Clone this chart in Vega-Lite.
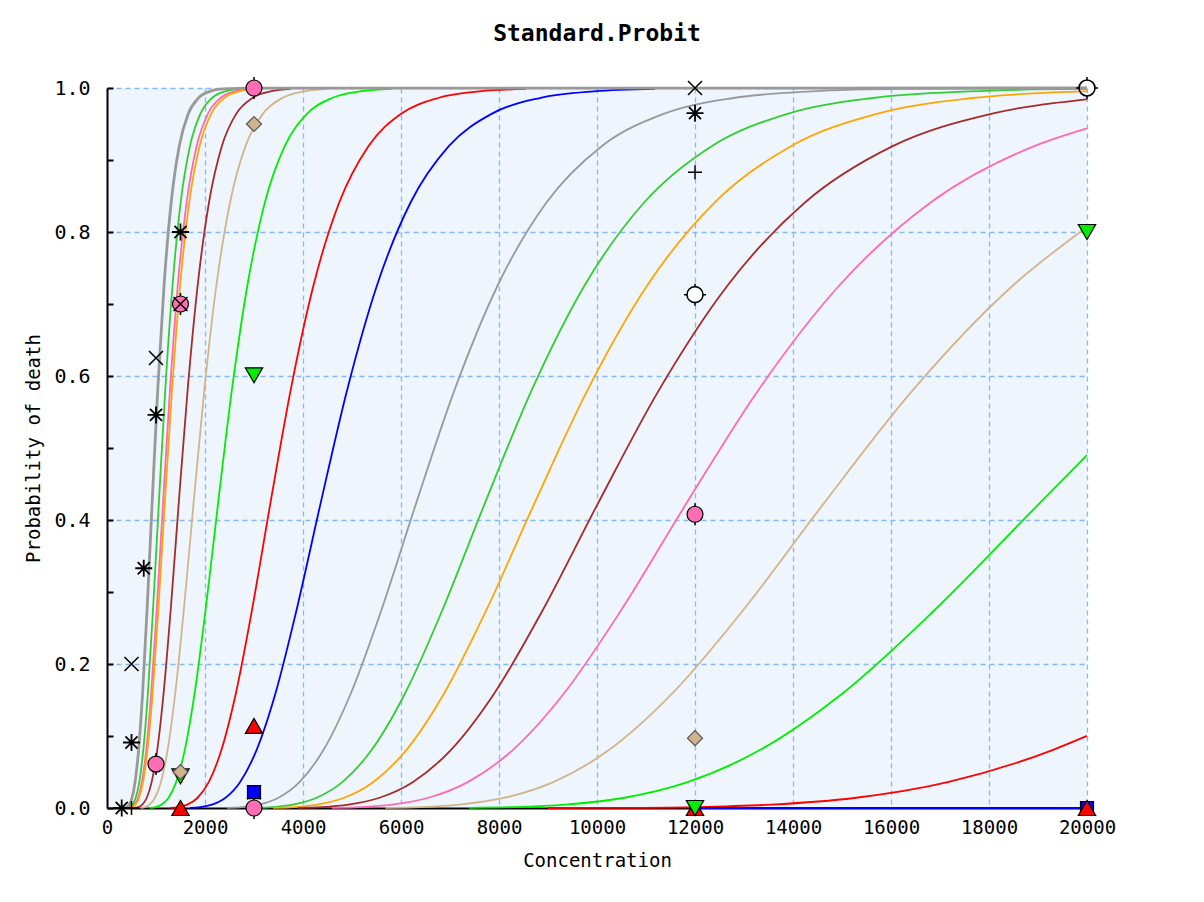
{
"$schema": "https://vega.github.io/schema/vega-lite/v6.json",
"width": 980, "height": 720,
"autosize": {"type": "none"},
"padding": {"left": 107, "top": 88, "right": 117, "bottom": 94},
"background": "white",
"title": {"text": "Standard.Probit", "font": "DejaVu Sans Mono", "fontSize": 23, "fontWeight": "bold", "color": "#000", "anchor": "middle", "offset": 28},
"config": {"view": {"stroke": null, "fill": "#eef5fd"}},
"datasets": {
"curves": [
{"s":"c1","x":358,"p":0.0003},{"s":"c1","x":402,"p":0.0013},{"s":"c1","x":453,"p":0.0047},{"s":"c1","x":510,"p":0.0139},{"s":"c1","x":573,"p":0.0359},{"s":"c1","x":645,"p":0.0808},{"s":"c1","x":726,"p":0.1587},{"s":"c1","x":817,"p":0.2743},{"s":"c1","x":919,"p":0.4207},{"s":"c1","x":1034,"p":0.5793},{"s":"c1","x":1164,"p":0.7257},{"s":"c1","x":1310,"p":0.8413},{"s":"c1","x":1474,"p":0.9192},{"s":"c1","x":1658,"p":0.9641},{"s":"c1","x":1866,"p":0.9861},{"s":"c1","x":2099,"p":0.9953},{"s":"c1","x":2362,"p":0.9987},{"s":"c1","x":3000,"p":0.9998},{"s":"c1","x":20000,"p":1},
{"s":"c2","x":411,"p":0.0003},{"s":"c2","x":462,"p":0.0013},{"s":"c2","x":520,"p":0.0047},{"s":"c2","x":585,"p":0.0139},{"s":"c2","x":659,"p":0.0359},{"s":"c2","x":741,"p":0.0808},{"s":"c2","x":834,"p":0.1587},{"s":"c2","x":938,"p":0.2743},{"s":"c2","x":1056,"p":0.4207},{"s":"c2","x":1188,"p":0.5793},{"s":"c2","x":1337,"p":0.7257},{"s":"c2","x":1504,"p":0.8413},{"s":"c2","x":1693,"p":0.9192},{"s":"c2","x":1905,"p":0.9641},{"s":"c2","x":2143,"p":0.9861},{"s":"c2","x":2412,"p":0.9953},{"s":"c2","x":2714,"p":0.9987},
{"s":"c3","x":444,"p":0.0003},{"s":"c3","x":499,"p":0.0013},{"s":"c3","x":562,"p":0.0047},{"s":"c3","x":632,"p":0.0139},{"s":"c3","x":711,"p":0.0359},{"s":"c3","x":801,"p":0.0808},{"s":"c3","x":901,"p":0.1587},{"s":"c3","x":1014,"p":0.2743},{"s":"c3","x":1141,"p":0.4207},{"s":"c3","x":1284,"p":0.5793},{"s":"c3","x":1444,"p":0.7257},{"s":"c3","x":1625,"p":0.8413},{"s":"c3","x":1829,"p":0.9192},{"s":"c3","x":2058,"p":0.9641},{"s":"c3","x":2315,"p":0.9861},{"s":"c3","x":2605,"p":0.9953},{"s":"c3","x":2932,"p":0.9987},
{"s":"c4","x":459,"p":0.0003},{"s":"c4","x":516,"p":0.0013},{"s":"c4","x":581,"p":0.0047},{"s":"c4","x":653,"p":0.0139},{"s":"c4","x":735,"p":0.0359},{"s":"c4","x":827,"p":0.0808},{"s":"c4","x":931,"p":0.1587},{"s":"c4","x":1047,"p":0.2743},{"s":"c4","x":1178,"p":0.4207},{"s":"c4","x":1326,"p":0.5793},{"s":"c4","x":1492,"p":0.7257},{"s":"c4","x":1679,"p":0.8413},{"s":"c4","x":1889,"p":0.9192},{"s":"c4","x":2126,"p":0.9641},{"s":"c4","x":2392,"p":0.9861},{"s":"c4","x":2692,"p":0.9953},{"s":"c4","x":3029,"p":0.9987},
{"s":"c5","x":569,"p":0.0003},{"s":"c5","x":640,"p":0.0013},{"s":"c5","x":720,"p":0.0047},{"s":"c5","x":810,"p":0.0139},{"s":"c5","x":911,"p":0.0359},{"s":"c5","x":1026,"p":0.0808},{"s":"c5","x":1154,"p":0.1587},{"s":"c5","x":1299,"p":0.2743},{"s":"c5","x":1461,"p":0.4207},{"s":"c5","x":1644,"p":0.5793},{"s":"c5","x":1850,"p":0.7257},{"s":"c5","x":2082,"p":0.8413},{"s":"c5","x":2343,"p":0.9192},{"s":"c5","x":2636,"p":0.9641},{"s":"c5","x":2966,"p":0.9861},{"s":"c5","x":3338,"p":0.9953},{"s":"c5","x":3756,"p":0.9987},
{"s":"c6","x":686,"p":0.0003},{"s":"c6","x":772,"p":0.0013},{"s":"c6","x":868,"p":0.0047},{"s":"c6","x":977,"p":0.0139},{"s":"c6","x":1100,"p":0.0359},{"s":"c6","x":1237,"p":0.0808},{"s":"c6","x":1392,"p":0.1587},{"s":"c6","x":1567,"p":0.2743},{"s":"c6","x":1763,"p":0.4207},{"s":"c6","x":1984,"p":0.5793},{"s":"c6","x":2232,"p":0.7257},{"s":"c6","x":2512,"p":0.8413},{"s":"c6","x":2826,"p":0.9192},{"s":"c6","x":3180,"p":0.9641},{"s":"c6","x":3578,"p":0.9861},{"s":"c6","x":4027,"p":0.9953},{"s":"c6","x":4531,"p":0.9987},
{"s":"c7","x":880,"p":0.0003},{"s":"c7","x":991,"p":0.0013},{"s":"c7","x":1115,"p":0.0047},{"s":"c7","x":1254,"p":0.0139},{"s":"c7","x":1411,"p":0.0359},{"s":"c7","x":1588,"p":0.0808},{"s":"c7","x":1787,"p":0.1587},{"s":"c7","x":2011,"p":0.2743},{"s":"c7","x":2263,"p":0.4207},{"s":"c7","x":2546,"p":0.5793},{"s":"c7","x":2865,"p":0.7257},{"s":"c7","x":3223,"p":0.8413},{"s":"c7","x":3627,"p":0.9192},{"s":"c7","x":4081,"p":0.9641},{"s":"c7","x":4593,"p":0.9861},{"s":"c7","x":5168,"p":0.9953},{"s":"c7","x":5815,"p":0.9987},
{"s":"c8","x":1295,"p":0.0003},{"s":"c8","x":1457,"p":0.0013},{"s":"c8","x":1639,"p":0.0047},{"s":"c8","x":1845,"p":0.0139},{"s":"c8","x":2076,"p":0.0359},{"s":"c8","x":2336,"p":0.0808},{"s":"c8","x":2628,"p":0.1587},{"s":"c8","x":2957,"p":0.2743},{"s":"c8","x":3328,"p":0.4207},{"s":"c8","x":3745,"p":0.5793},{"s":"c8","x":4213,"p":0.7257},{"s":"c8","x":4741,"p":0.8413},{"s":"c8","x":5335,"p":0.9192},{"s":"c8","x":6003,"p":0.9641},{"s":"c8","x":6755,"p":0.9861},{"s":"c8","x":7601,"p":0.9953},{"s":"c8","x":8553,"p":0.9987},
{"s":"c9","x":1693,"p":0.0003},{"s":"c9","x":1905,"p":0.0013},{"s":"c9","x":2143,"p":0.0047},{"s":"c9","x":2412,"p":0.0139},{"s":"c9","x":2714,"p":0.0359},{"s":"c9","x":3054,"p":0.0808},{"s":"c9","x":3436,"p":0.1587},{"s":"c9","x":3866,"p":0.2743},{"s":"c9","x":4351,"p":0.4207},{"s":"c9","x":4896,"p":0.5793},{"s":"c9","x":5509,"p":0.7257},{"s":"c9","x":6198,"p":0.8413},{"s":"c9","x":6975,"p":0.9192},{"s":"c9","x":7848,"p":0.9641},{"s":"c9","x":8831,"p":0.9861},{"s":"c9","x":9938,"p":0.9953},{"s":"c9","x":11182,"p":0.9987},
{"s":"c10","x":2450,"p":0.0003},{"s":"c10","x":2757,"p":0.0013},{"s":"c10","x":3102,"p":0.0047},{"s":"c10","x":3491,"p":0.0139},{"s":"c10","x":3928,"p":0.0359},{"s":"c10","x":4420,"p":0.0808},{"s":"c10","x":4973,"p":0.1587},{"s":"c10","x":5597,"p":0.2743},{"s":"c10","x":6297,"p":0.4207},{"s":"c10","x":7086,"p":0.5793},{"s":"c10","x":7973,"p":0.7257},{"s":"c10","x":8972,"p":0.8413},{"s":"c10","x":10096,"p":0.9192},{"s":"c10","x":11360,"p":0.9641},{"s":"c10","x":12783,"p":0.9861},{"s":"c10","x":14384,"p":0.9953},{"s":"c10","x":16186,"p":0.9987},{"s":"c10","x":20000,"p":0.9999},
{"s":"c11","x":2995,"p":0.0003},{"s":"c11","x":3370,"p":0.0013},{"s":"c11","x":3792,"p":0.0047},{"s":"c11","x":4267,"p":0.0139},{"s":"c11","x":4801,"p":0.0359},{"s":"c11","x":5403,"p":0.0808},{"s":"c11","x":6079,"p":0.1587},{"s":"c11","x":6841,"p":0.2743},{"s":"c11","x":7697,"p":0.4207},{"s":"c11","x":8661,"p":0.5793},{"s":"c11","x":9746,"p":0.7257},{"s":"c11","x":10966,"p":0.8413},{"s":"c11","x":12340,"p":0.9192},{"s":"c11","x":13885,"p":0.9641},{"s":"c11","x":15625,"p":0.9861},{"s":"c11","x":17582,"p":0.9953},{"s":"c11","x":19784,"p":0.9987},{"s":"c11","x":20000,"p":0.9988},
{"s":"c12","x":3388,"p":0.0003},{"s":"c12","x":3812,"p":0.0013},{"s":"c12","x":4289,"p":0.0047},{"s":"c12","x":4827,"p":0.0139},{"s":"c12","x":5431,"p":0.0359},{"s":"c12","x":6112,"p":0.0808},{"s":"c12","x":6876,"p":0.1587},{"s":"c12","x":7738,"p":0.2743},{"s":"c12","x":8707,"p":0.4207},{"s":"c12","x":9798,"p":0.5793},{"s":"c12","x":11024,"p":0.7257},{"s":"c12","x":12405,"p":0.8413},{"s":"c12","x":13958,"p":0.9192},{"s":"c12","x":15707,"p":0.9641},{"s":"c12","x":17674,"p":0.9861},{"s":"c12","x":19888,"p":0.9953},{"s":"c12","x":20000,"p":0.9956},
{"s":"c13","x":3892,"p":0.0003},{"s":"c13","x":4379,"p":0.0013},{"s":"c13","x":4927,"p":0.0047},{"s":"c13","x":5545,"p":0.0139},{"s":"c13","x":6239,"p":0.0359},{"s":"c13","x":7021,"p":0.0808},{"s":"c13","x":7899,"p":0.1587},{"s":"c13","x":8889,"p":0.2743},{"s":"c13","x":10002,"p":0.4207},{"s":"c13","x":11255,"p":0.5793},{"s":"c13","x":12664,"p":0.7257},{"s":"c13","x":14250,"p":0.8413},{"s":"c13","x":16035,"p":0.9192},{"s":"c13","x":18043,"p":0.9641},{"s":"c13","x":20000,"p":0.9842},
{"s":"c14","x":4592,"p":0.0003},{"s":"c14","x":5167,"p":0.0013},{"s":"c14","x":5814,"p":0.0047},{"s":"c14","x":6543,"p":0.0139},{"s":"c14","x":7362,"p":0.0359},{"s":"c14","x":8285,"p":0.0808},{"s":"c14","x":9321,"p":0.1587},{"s":"c14","x":10489,"p":0.2743},{"s":"c14","x":11803,"p":0.4207},{"s":"c14","x":13281,"p":0.5793},{"s":"c14","x":14944,"p":0.7257},{"s":"c14","x":16816,"p":0.8413},{"s":"c14","x":18922,"p":0.9192},{"s":"c14","x":20000,"p":0.9439},
{"s":"c15","x":5682,"p":0.0003},{"s":"c15","x":6393,"p":0.0013},{"s":"c15","x":7194,"p":0.0047},{"s":"c15","x":8095,"p":0.0139},{"s":"c15","x":9108,"p":0.0359},{"s":"c15","x":10250,"p":0.0808},{"s":"c15","x":11532,"p":0.1587},{"s":"c15","x":12978,"p":0.2743},{"s":"c15","x":14602,"p":0.4207},{"s":"c15","x":16432,"p":0.5793},{"s":"c15","x":18489,"p":0.7257},{"s":"c15","x":20000,"p":0.807},
{"s":"c16","x":7391,"p":0.0003},{"s":"c16","x":8316,"p":0.0013},{"s":"c16","x":9358,"p":0.0047},{"s":"c16","x":10530,"p":0.0139},{"s":"c16","x":11848,"p":0.0359},{"s":"c16","x":13333,"p":0.0808},{"s":"c16","x":15002,"p":0.1587},{"s":"c16","x":16882,"p":0.2743},{"s":"c16","x":18995,"p":0.4207},{"s":"c16","x":20000,"p":0.49},
{"s":"c17","x":9000,"p":0.0},{"s":"c17","x":10703,"p":0.0003},{"s":"c17","x":12043,"p":0.0013},{"s":"c17","x":13551,"p":0.0047},{"s":"c17","x":15250,"p":0.0139},{"s":"c17","x":17158,"p":0.0359},{"s":"c17","x":19308,"p":0.0808},{"s":"c17","x":20000,"p":0.1001},
{"s":"c18","x":12000,"p":0},{"s":"c18","x":20000,"p":0}
],
"pts": [
{"m":"asterisk","x":300,"p":0},{"m":"asterisk","x":500,"p":0.091},{"m":"asterisk","x":750,"p":0.333},{"m":"asterisk","x":1000,"p":0.546},{"m":"asterisk","x":1500,"p":0.8},{"m":"asterisk","x":12000,"p":0.965},
{"m":"x","x":500,"p":0.2},{"m":"x","x":1000,"p":0.625},{"m":"x","x":1500,"p":0.7},{"m":"x","x":3000,"p":0.022},{"m":"x","x":12000,"p":1.0},
{"m":"plus","x":500,"p":0},{"m":"plus","x":12000,"p":0.883},
{"m":"ocircle","x":12000,"p":0.713},{"m":"ocircle","x":20000,"p":1.0},
{"m":"pcircle","x":1000,"p":0.061},{"m":"pcircle","x":1500,"p":0.7},{"m":"pcircle","x":3000,"p":1.0},{"m":"pcircle","x":3000,"p":0},{"m":"pcircle","x":12000,"p":0.408},
{"m":"diamond","x":1500,"p":0.05},{"m":"diamond","x":3000,"p":0.95},{"m":"diamond","x":12000,"p":0.097},
{"m":"tridown","x":1500,"p":0.044},{"m":"tridown","x":3000,"p":0.601},{"m":"tridown","x":12000,"p":0},{"m":"tridown","x":20000,"p":0.8},
{"m":"triup","x":1500,"p":0},{"m":"triup","x":3000,"p":0.114},{"m":"triup","x":12000,"p":0},{"m":"triup","x":20000,"p":0},
{"m":"square","x":3000,"p":0.022},{"m":"square","x":20000,"p":0}
]
},
"encoding": {
"x": {"field": "x", "type": "quantitative", "scale": {"domain": [0, 20000], "nice": false, "zero": true},
  "axis": {"title": "Concentration", "values": [0,2000,4000,6000,8000,10000,12000,14000,16000,18000,20000], "format": "d",
    "grid": true, "gridColor": "#85b9ef", "gridDash": [5,4], "gridWidth": 1.3,
    "gridOpacity": {"condition": {"test": "datum.value > 0", "value": 1}, "value": 0},
    "ticks": false, "domainColor": "#000", "domainWidth": 2, "labelFlush": false,
    "labelFont": "DejaVu Sans Mono", "labelFontSize": 19, "labelColor": "#000", "labelPadding": 10,
    "titleFont": "DejaVu Sans Mono", "titleFontSize": 19, "titleFontWeight": "normal", "titleColor": "#000", "titlePadding": 14}},
"y": {"field": "p", "type": "quantitative", "scale": {"domain": [0, 1], "nice": false},
  "axis": {"title": "Probability of death", "values": [0,0.1,0.2,0.3,0.4,0.5,0.6,0.7,0.8,0.9,1.0], "format": ".1f",
    "labelExpr": "round(datum.value*10) % 2 == 0 ? datum.label : ''",
    "grid": true, "gridColor": "#85b9ef", "gridDash": [5,4], "gridWidth": 1.3,
    "gridOpacity": {"condition": {"test": "round(datum.value*10) % 2 == 0 && datum.value > 0", "value": 1}, "value": 0},
    "tickSize": -6, "tickColor": "#000", "tickWidth": 2, "domainColor": "#000", "domainWidth": 2,
    "labelFont": "DejaVu Sans Mono", "labelFontSize": 20, "labelColor": "#000", "labelPadding": 23,
    "titleFont": "DejaVu Sans Mono", "titleFontSize": 19, "titleFontWeight": "normal", "titleColor": "#000", "titlePadding": 10}}
},
"layer": [
{"data": {"name": "curves"}, "transform": [{"filter": "datum.s != 'c1'"}],
 "mark": {"type": "line", "interpolate": "monotone", "strokeWidth": 1.8},
 "encoding": {"color": {"field": "s", "type": "nominal", "legend": null,
   "scale": {"domain": ["c1","c2","c3","c4","c5","c6","c7","c8","c9","c10","c11","c12","c13","c14","c15","c16","c17","c18"],
   "range": ["#999999","#33cc33","#ff69b4","#ffa500","#a52a2a","#d2b48c","#00ee00","#ff0000","#0000ff","#999999","#33cc33","#ffa500","#a52a2a","#ff69b4","#d2b48c","#00ee00","#ff0000","#0000ff"]}}}},
{"data": {"name": "curves"}, "transform": [{"filter": "datum.s == 'c1'"}],
 "mark": {"type": "line", "interpolate": "monotone", "strokeWidth": 2.8, "color": "#999999"},
 "encoding": {}},
{"data": {"name": "pts"}, "transform": [{"filter": "datum.m == 'ocircle'"}],
 "mark": {"type": "point", "shape": "M0,-1L0,-0.7M0,0.7L0,1M-1,0L-0.7,0M0.7,0L1,0", "filled": false, "stroke": "#000", "strokeWidth": 1.5, "size": 484, "opacity": 1}},
{"data": {"name": "pts"}, "transform": [{"filter": "datum.m == 'ocircle' && datum.x < 15000"}],
 "mark": {"type": "point", "shape": "circle", "filled": true, "fill": "#ffffff", "stroke": "#000", "strokeWidth": 1.6, "size": 256, "opacity": 1}},
{"data": {"name": "pts"}, "transform": [{"filter": "datum.m == 'pcircle'"}],
 "mark": {"type": "point", "shape": "M0,-1L0,1", "filled": false, "stroke": "#000", "strokeWidth": 1.5, "size": 484, "opacity": 1}},
{"data": {"name": "pts"}, "transform": [{"filter": "datum.m == 'pcircle'"}],
 "mark": {"type": "point", "shape": "circle", "filled": true, "fill": "#ff6eb4", "stroke": "#000", "strokeWidth": 1.2, "size": 256, "opacity": 1}},
{"data": {"name": "pts"}, "transform": [{"filter": "datum.m == 'x'"}],
 "mark": {"type": "point", "shape": "M-1,-1L1,1M-1,1L1,-1", "filled": false, "stroke": "#000", "strokeWidth": 1.5, "size": 196, "opacity": 1}},
{"data": {"name": "pts"}, "transform": [{"filter": "datum.m == 'asterisk'"}],
 "mark": {"type": "point", "shape": "M-1,0L1,0M0,-1L0,1M-0.71,-0.71L0.71,0.71M-0.71,0.71L0.71,-0.71", "filled": false, "stroke": "#000", "strokeWidth": 1.8, "size": 289, "opacity": 1}},
{"data": {"name": "pts"}, "transform": [{"filter": "datum.m == 'plus'"}],
 "mark": {"type": "point", "shape": "M-1,0L1,0M0,-1L0,1", "filled": false, "stroke": "#000", "strokeWidth": 1.5, "size": 196, "opacity": 1}},
{"data": {"name": "pts"}, "transform": [{"filter": "datum.m == 'square'"}],
 "mark": {"type": "point", "shape": "square", "filled": true, "fill": "#0000ff", "stroke": "#000", "strokeWidth": 1.2, "size": 169, "opacity": 1}},
{"data": {"name": "pts"}, "transform": [{"filter": "datum.m == 'triup'"}],
 "mark": {"type": "point", "shape": "triangle-up", "filled": true, "fill": "#ff0000", "stroke": "#000", "strokeWidth": 1.2, "size": 300, "opacity": 1}},
{"data": {"name": "pts"}, "transform": [{"filter": "datum.m == 'tridown'"}],
 "mark": {"type": "point", "shape": "triangle-down", "filled": true, "fill": "#00ee00", "stroke": "#000", "strokeWidth": 1.2, "size": 300, "opacity": 1}},
{"data": {"name": "pts"}, "transform": [{"filter": "datum.m == 'diamond'"}],
 "mark": {"type": "point", "shape": "diamond", "filled": true, "fill": "#d2b48c", "stroke": "#555", "strokeWidth": 1.2, "size": 225, "opacity": 1}},
{"data": {"name": "pts"}, "transform": [{"filter": "datum.m == 'ocircle' && datum.x > 15000"}],
 "mark": {"type": "point", "shape": "circle", "filled": false, "stroke": "#000", "strokeWidth": 1.6, "size": 256, "opacity": 1}}
]
}
